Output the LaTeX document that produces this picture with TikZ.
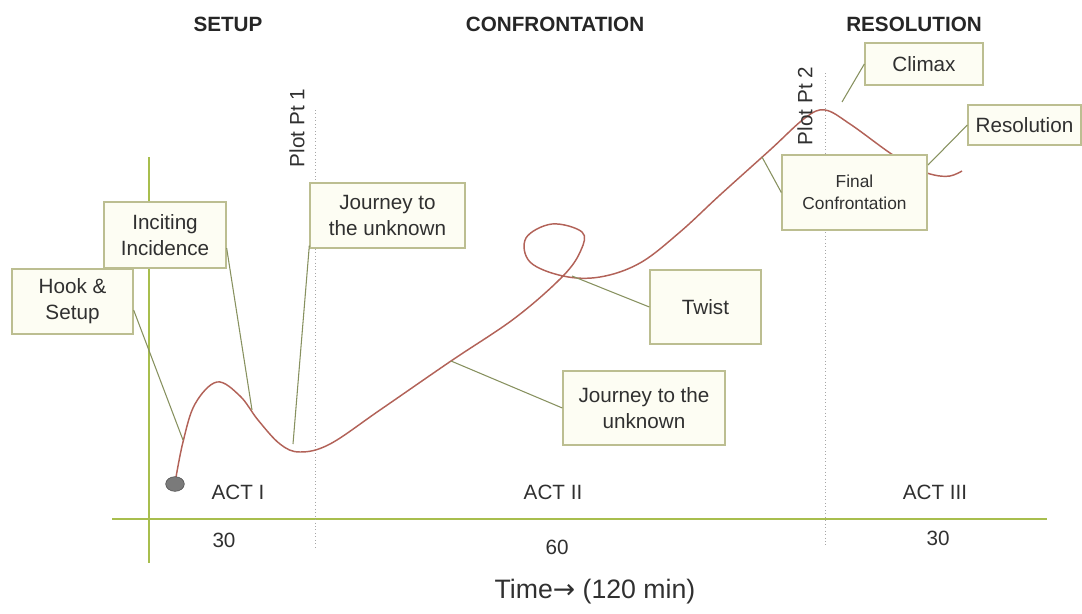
\documentclass[tikz,border=0pt]{standalone}
\usepackage{fontspec}
\setmainfont{Liberation Sans}
\newfontfamily\arrowfont{DejaVu Sans}
\usepackage{tikz}
\usetikzlibrary{positioning,shapes.geometric}
\definecolor{boxline}{RGB}{188,190,145}
\definecolor{boxfill}{RGB}{253,253,243}
\definecolor{tieline}{RGB}{135,145,95}
\definecolor{storyline}{RGB}{178,98,88}
\definecolor{axisline}{RGB}{168,190,78}
\definecolor{inkgray}{RGB}{48,48,48}

\begin{document}
\begin{tikzpicture}[x=0.75pt, y=-0.75pt,
  beat/.style={draw=boxline, fill=boxfill, line width=1pt, align=center,
    text=inkgray, font=\fontsize{15.5}{19.5}\selectfont, inner sep=2pt},
  tie/.style={draw=tieline, line width=0.8pt},
  story/.style={draw=storyline, line width=1.1pt},
  axis/.style={draw=axisline, line width=1.2pt},
  plotpt/.style={draw=gray!70, dotted, line width=0.6pt},
  head/.style={font=\bfseries\fontsize{15.5}{18}\selectfont, text=black!85},
  lbl/.style={font=\fontsize{15.5}{18}\selectfont, text=inkgray}
]
  \useasboundingbox (0,0) rectangle (1082,614);

  % axes and plot points
  \coordinate (ytop) at (149,157);
  \coordinate (ybot) at (149,563);
  \coordinate (xleft) at (112,519);
  \coordinate (xright) at (1047,519);
  \draw[axis] (ytop) -- (ybot);
  \draw[axis] (xleft) -- (xright);
  \coordinate (pp1top) at (315,110);
  \coordinate (pp1bot) at (315,547);
  \coordinate (pp2top) at (825,73);
  \coordinate (pp2bot) at (825,547);
  \draw[plotpt] (pp1top) -- (pp1bot);
  \draw[plotpt] (pp2top) -- (pp2bot);

  % the story curve
  \draw[story] plot[smooth, tension=0.6] coordinates {
    (175,483) (183,442) (195,404) (217,382) (240,396) (258,420) (280,444)
    (300,452) (330,444) (380,410) (451,361) (515,318) (563,276) (581,250)
    (582,232) (552,224) (526,238) (530,262) (563,276) (600,277) (640,263)
    (680,232) (720,195) (770,150) (805,118) (825,110) (850,124) (890,153)
    (915,168) (934,175) (950,176) (962,171)};
  \node[draw=black!70, fill=black!52, ellipse, minimum width=14pt,
    minimum height=11pt, inner sep=0pt] (dot) at (175,484) {};

  % points on the curve
  \coordinate (onhook) at (183,440);
  \coordinate (oninc) at (252,410);
  \coordinate (onjone) at (293,444);
  \coordinate (onjtwo) at (451,361);
  \coordinate (ontwist) at (572,276);
  \coordinate (onfinal) at (762,157);
  \coordinate (onclimax) at (842,102);
  \coordinate (onresol) at (928,165);

  % beats
  \node[beat, minimum width=90.75pt, minimum height=48.75pt] (hook) at (72.5,301.5) {Hook \&\\Setup};
  \node[beat, minimum width=91.5pt, minimum height=49.5pt] (inc) at (165,235) {Inciting\\Incidence};
  \node[beat, minimum width=116.25pt, minimum height=48.75pt] (jone) at (387.5,215.5) {Journey to\\the unknown};
  \node[beat, minimum width=83.25pt, minimum height=55.5pt] (twist) at (705.5,307) {Twist};
  \node[beat, minimum width=121.5pt, minimum height=55.5pt] (jtwo) at (644,408) {Journey to the\\unknown};
  \node[beat, minimum width=108.75pt, minimum height=56.25pt,
    font=\fontsize{13}{16.5}\selectfont] (final) at (854.5,192.5) {Final\\Confrontation};
  \node[beat, minimum width=88.5pt, minimum height=31.5pt] (climax) at (924,64) {Climax};
  \node[beat, minimum width=84.75pt, minimum height=30pt] (resol) at (1024.5,125) {Resolution};

  % ties
  \draw[tie] (hook.-8) -- (onhook);
  \draw[tie] (inc.-12) -- (oninc);
  \draw[tie] (jone.201) -- (onjone);
  \draw[tie] (jtwo.west) -- (onjtwo);
  \draw[tie] (twist.west) -- (ontwist);
  \draw[tie] (final.west) -- (onfinal);
  \draw[tie] (climax.west) -- (onclimax);
  \draw[tie] (resol.west) -- (onresol);

  % headings and labels
  \node[head] (setup) at (228,24) {SETUP};
  \node[head] (confr) at (555,24) {CONFRONTATION};
  \node[head] (resolh) at (914,24) {RESOLUTION};
  \node[lbl, rotate=90] (ppone) at (297,128) {Plot Pt 1};
  \node[lbl, rotate=90] (pptwo) at (805,106) {Plot Pt 2};
  \node[lbl] (actone) at (238,492) {ACT I};
  \node[lbl] (acttwo) at (553,492) {ACT II};
  \node[lbl] (actthree) at (935,492) {ACT III};
  \node[lbl] (tone) at (224,540) {30};
  \node[lbl] (ttwo) at (557,547) {60};
  \node[lbl] (tthree) at (938,538) {30};
  \node[font=\fontsize{20}{24}\selectfont, text=inkgray] (time) at (595,592) {Time{\arrowfont→} (120 min)};
\end{tikzpicture}
\end{document}
